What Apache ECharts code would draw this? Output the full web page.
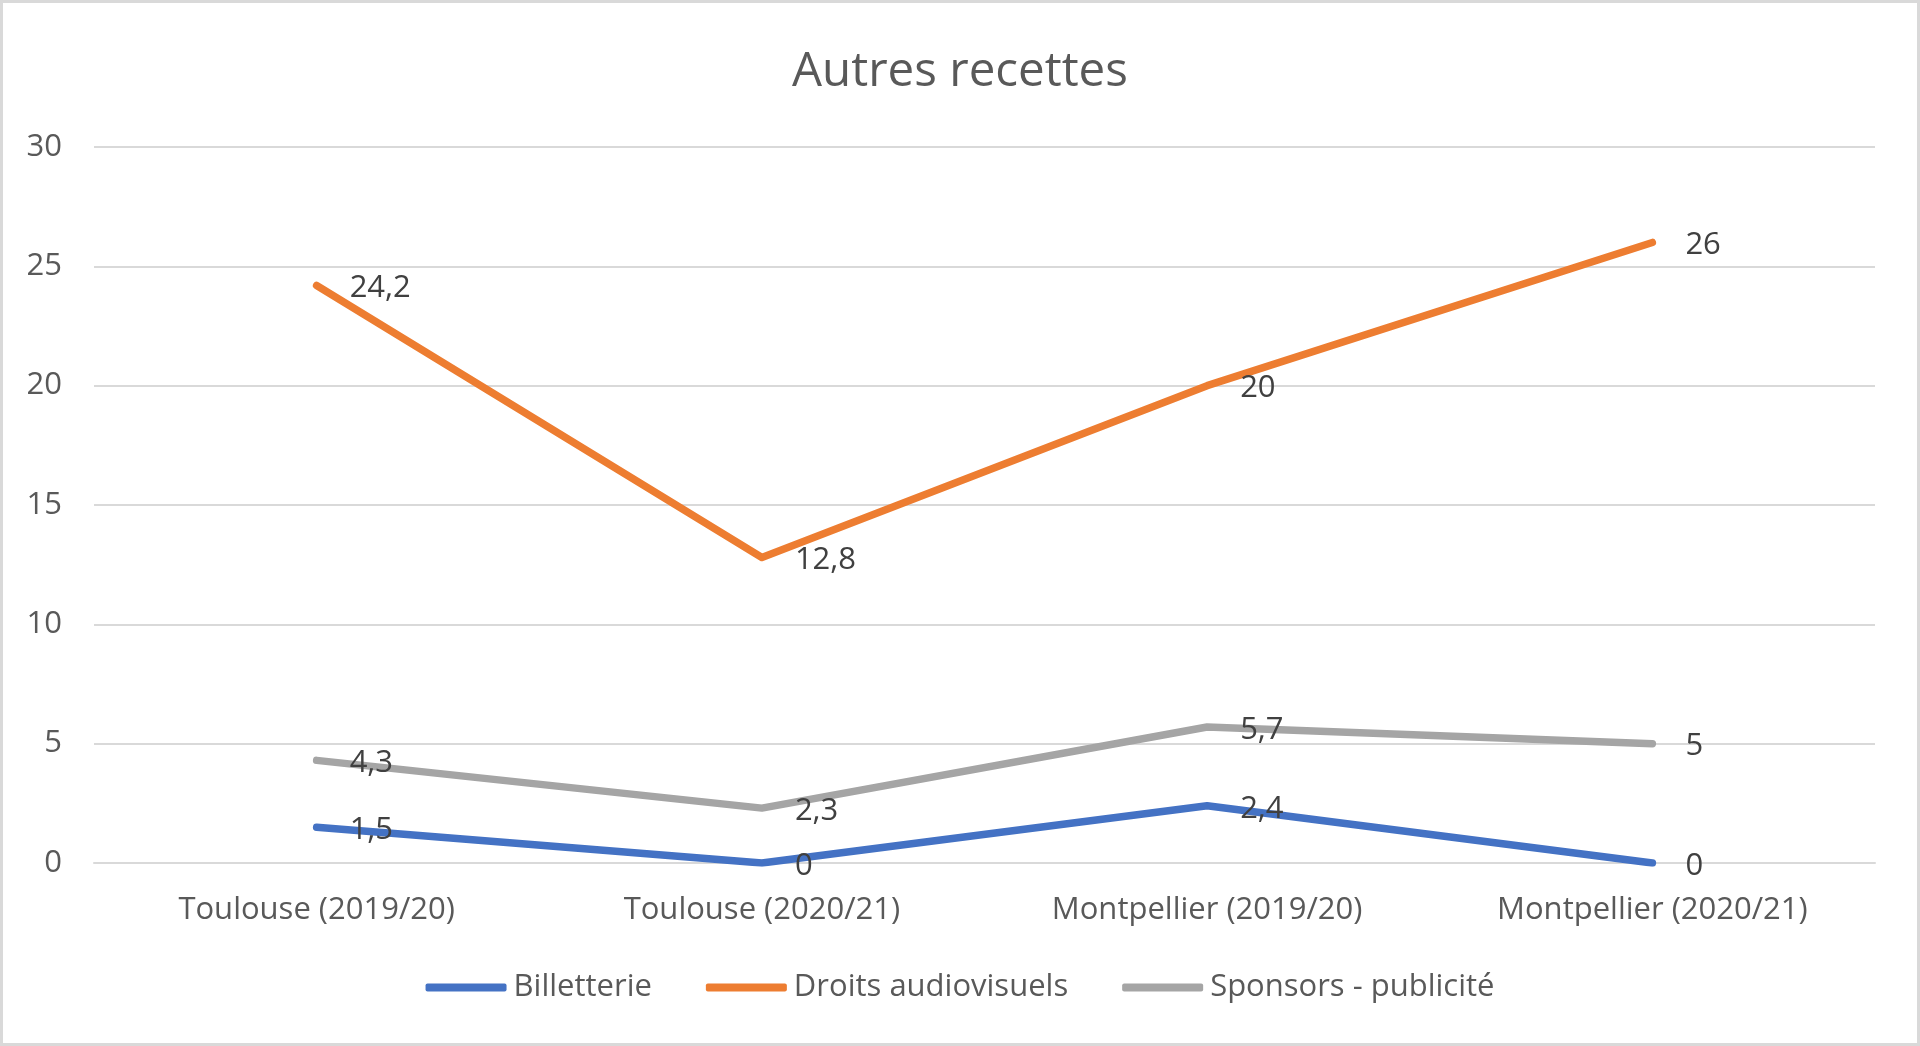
<!DOCTYPE html>
<html>
<head>
<meta charset="utf-8">
<script src="https://cdn.jsdelivr.net/npm/echarts@6/dist/echarts.min.js"></script>
<style>
html,body{margin:0;padding:0;background:#fff;}
#chart{width:1920px;height:1046px;}
</style>
</head>
<body>
<div id="chart"></div>
<script>
const categories = ['Toulouse (2019/20)', 'Toulouse (2020/21)', 'Montpellier (2019/20)', 'Montpellier (2020/21)'];
const billetterie = [1.5, 0, 2.4, 0];
const droitsAudiovisuels = [24.2, 12.8, 20, 26];
const sponsorsPublicite = [4.3, 2.3, 5.7, 5];
const seriesNames = ['Billetterie', 'Droits audiovisuels', 'Sponsors - publicité'];
const seriesColors = ['#4472C4', '#ED7D31', '#A5A5A5'];
const yTicks = [0, 5, 10, 15, 20, 25, 30];

const FONT = '"Open Sans", sans-serif';
const fmt = v => String(v).replace('.', ',');

function makeSeries(name, data, color) {
  return {
    name: name,
    type: 'line',
    data: data,
    symbol: 'circle',
    symbolSize: 2,
    itemStyle: { color: color },
    lineStyle: { color: color, width: 7.5, cap: 'round', join: 'round' },
    label: {
      show: true,
      position: 'right',
      distance: 32,
      offset: [0, 3],
      fontFamily: FONT,
      fontSize: 31,
      color: '#404040',
      formatter: p => fmt(p.value)
    },
    emphasis: { disabled: true },
    animation: false
  };
}

const chart = echarts.init(document.getElementById('chart'));
chart.setOption({
  animation: false,
  backgroundColor: '#ffffff',
  title: {
    text: 'Autres recettes',
    left: 'center',
    top: 43,
    textStyle: { fontFamily: FONT, fontSize: 47.5, fontWeight: 'normal', color: '#595959' }
  },
  graphic: [{
    type: 'rect',
    shape: { x: 1.5, y: 1.5, width: 1917, height: 1043 },
    style: { fill: 'none', stroke: '#d9d9d9', lineWidth: 3 },
    silent: true,
    z: 100
  }],
  legend: {
    data: seriesNames,
    bottom: 38,
    left: 'center',
    itemGap: 54,
    itemWidth: 81,
    itemHeight: 8,
    icon: 'roundRect',
    textStyle: { fontFamily: FONT, fontSize: 31, color: '#595959', padding: [0, 0, 0, 2] }
  },
  grid: { left: 94, right: 45, top: 147, bottom: 183, containLabel: false },
  xAxis: {
    type: 'category',
    data: categories,
    boundaryGap: true,
    axisLine: { show: true, lineStyle: { color: '#d9d9d9', width: 2 } },
    axisTick: { show: false },
    axisLabel: { fontFamily: FONT, fontSize: 31, color: '#595959', margin: 32 }
  },
  yAxis: {
    type: 'value',
    min: yTicks[0],
    max: yTicks[yTicks.length - 1],
    interval: 5,
    axisLine: { show: false },
    axisTick: { show: false },
    splitLine: { lineStyle: { color: '#d9d9d9', width: 2 } },
    axisLabel: { fontFamily: FONT, fontSize: 31, color: '#595959', margin: 32 }
  },
  series: [
    makeSeries(seriesNames[0], billetterie, seriesColors[0]),
    makeSeries(seriesNames[1], droitsAudiovisuels, seriesColors[1]),
    makeSeries(seriesNames[2], sponsorsPublicite, seriesColors[2])
  ]
});
</script>
</body>
</html>
